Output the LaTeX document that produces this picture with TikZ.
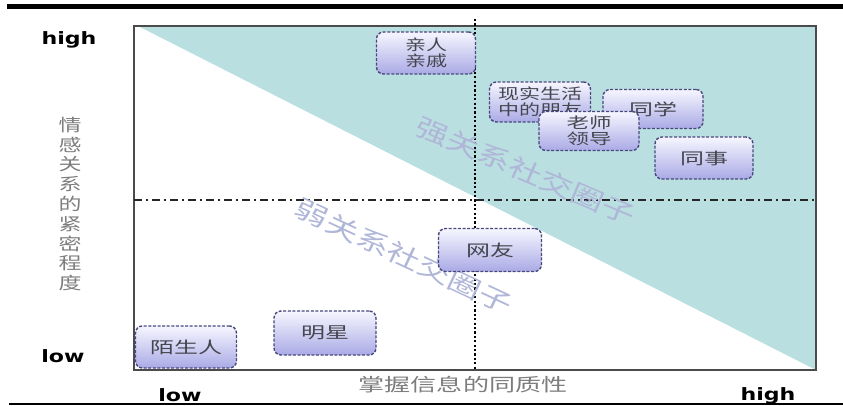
\documentclass[tikz,border=0pt]{standalone}
\usepackage{fontspec}
\usepackage{graphicx}
\newfontfamily\cjk{Noto Sans CJK SC}
\newfontfamily\lat{DejaVu Sans}
\newcommand\wide[2]{\scalebox{#1}[1]{#2}}
\definecolor{teal1}{RGB}{185,223,225}
\definecolor{frame1}{RGB}{75,75,75}
\definecolor{nodeedge}{RGB}{72,72,125}
\definecolor{nodetop}{RGB}{246,246,255}
\definecolor{nodebot}{RGB}{170,170,230}
\definecolor{nodetext}{RGB}{70,70,80}
\definecolor{axistext}{RGB}{125,125,125}
\definecolor{marktext}{RGB}{176,182,216}
\tikzset{
  rel/.style={rounded corners=7pt, draw=nodeedge, line width=1.4pt,
    dash pattern=on 3pt off 1.6pt, top color=nodetop, bottom color=nodebot,
    minimum width=100pt, minimum height=41pt, inner sep=0pt, text=nodetext,
    font=\cjk\fontsize{15}{16}\selectfont, align=center},
  rel1/.style={rel, font=\cjk\fontsize{16}{18}\selectfont},
  axislab/.style={inner sep=0pt, text=black, font=\lat\bfseries\fontsize{17}{17}\selectfont},
  axiscjk/.style={inner sep=0pt, text=axistext, font=\cjk\fontsize{17}{19.8}\selectfont, align=center},
  wmark/.style={inner sep=0pt, text=marktext, font=\cjk\fontsize{25}{25}\selectfont},
  rulebar/.style={line width=#1, black},
}
\begin{document}
\begin{tikzpicture}[x=1pt,y=-1pt]
\useasboundingbox (0,0) rectangle (843,406);
% rules
\coordinate (tl) at (7,6.5);
\coordinate (tr) at (843,6.5);
\draw[rulebar=5pt] (tl) -- (tr);
\coordinate (bl) at (9,404);
\coordinate (br) at (843,404);
\draw[rulebar=2pt] (bl) -- (br);
% plot area
\coordinate (A) at (134,26);
\coordinate (B) at (816,26);
\coordinate (C) at (816,370);
\coordinate (D) at (134,370);
\coordinate (Tt) at (138,26);
\fill[teal1] (Tt) -- (B) -- (C) -- cycle;
\draw[frame1, line width=2pt] (A) rectangle (C);
% quadrant lines
\coordinate (vt) at (475,19);
\coordinate (vb) at (475,370);
\coordinate (hl) at (134,200);
\coordinate (hr) at (816,200);
\draw[black!85, line width=1.3pt, dash pattern=on 8pt off 4pt on 2pt off 4pt] (hl) -- (hr);
\draw[black, line width=2pt, dash pattern=on 2.2pt off 2.2pt] (vt) -- (vb);
% watermark texts
\node[wmark, rotate=-23] (strong) at (526,171) {\wide{1.35}{强关系社交圈子}};
\node[wmark, rotate=-25] (weak) at (404,256) {\wide{1.35}{弱关系社交圈子}};
% relation nodes
\node[rel, minimum width=99pt, minimum height=42pt] (qin) at (426,53) {\wide{1.4}{亲人}\\\wide{1.4}{亲戚}};
\node[rel, minimum width=101pt, minimum height=40pt] (xian) at (540,102) {\wide{1.4}{现实生活}\\\wide{1.4}{中的朋友}};
\node[rel1, minimum width=100pt, minimum height=39pt] (tongxue) at (653,109) {\wide{1.5}{同学}};
\node[rel, minimum width=100pt, minimum height=39pt] (laoshi) at (589,131) {\wide{1.5}{老师}\\\wide{1.5}{领导}};
\node[rel1, minimum width=98pt, minimum height=42pt] (tongshi) at (704,158) {\wide{1.5}{同事}};
\node[rel1, minimum width=103pt, minimum height=43pt] (wangyou) at (490,250) {\wide{1.5}{网友}};
\node[rel1, minimum width=102pt, minimum height=44pt] (mingxing) at (325,333) {\wide{1.5}{明星}};
\node[rel1, minimum width=101pt, minimum height=42pt] (mosheng) at (186,347) {\wide{1.5}{陌生人}};
% axis labels
\node[axislab] (yhigh) at (69,40) {\wide{1.3}{high}};
\node[axislab] (ylow) at (63,356) {\wide{1.3}{low}};
\node[axislab] (xlow) at (180,395) {\wide{1.3}{low}};
\node[axislab] (xhigh) at (768,396) {\wide{1.3}{high}};
\node[axiscjk] (ytitle) at (70,204) {\wide{1.35}{情}\\\wide{1.35}{感}\\\wide{1.35}{关}\\\wide{1.35}{系}\\\wide{1.35}{的}\\\wide{1.35}{紧}\\\wide{1.35}{密}\\\wide{1.35}{程}\\\wide{1.35}{度}};
\node[axiscjk, font=\cjk\fontsize{18}{18}\selectfont] (xtitle) at (463,385) {\wide{1.45}{掌握信息的同质性}};
\end{tikzpicture}
\end{document}
